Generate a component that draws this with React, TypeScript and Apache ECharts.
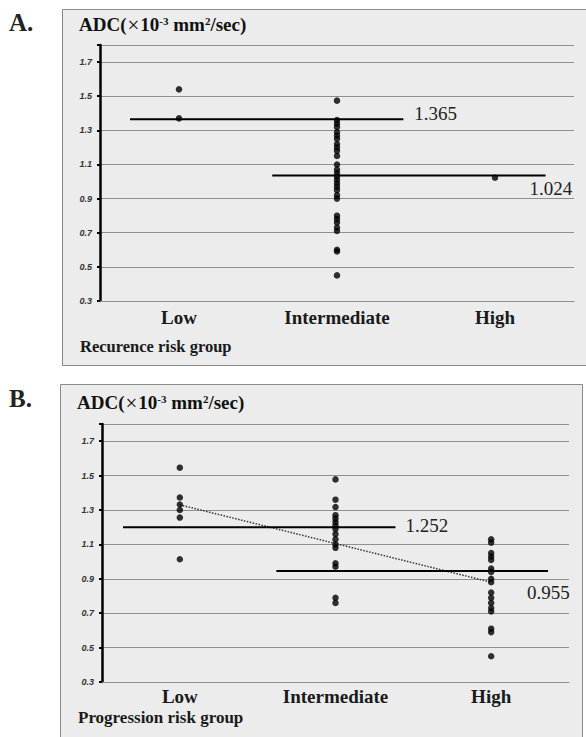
import React, { useEffect, useRef } from "react";
import * as echarts from "echarts";

const categories = ["Low", "Intermediate", "High"];
const yTicks = [0.3, 0.5, 0.7, 0.9, 1.1, 1.3, 1.5, 1.7];

// Panel A: recurrence risk group
const recurrenceLow = [1.54, 1.37];
const recurrenceIntermediate = [
  1.474, 1.36, 1.34, 1.32, 1.29, 1.27, 1.25, 1.22, 1.2, 1.18, 1.15, 1.1, 1.07,
  1.05, 1.03, 1.01, 0.99, 0.97, 0.95, 0.92, 0.9, 0.8, 0.78, 0.76, 0.73, 0.71,
  0.6, 0.59, 0.45,
];
const recurrenceHigh = [1.022];
const recurrenceMeanLevels = [1.365, 1.035];
const recurrenceMeanLabels = ["1.365", "1.024"];
const recurrenceMeanSpans = [
  [0.19, 1.92],
  [1.09, 2.82],
];

// Panel B: progression risk group
const progressionLow = [1.546, 1.373, 1.332, 1.3, 1.256, 1.014];
const progressionIntermediate = [
  1.478, 1.36, 1.317, 1.27, 1.25, 1.23, 1.21, 1.19, 1.16, 1.13, 1.1, 1.08,
  0.99, 0.97, 0.79, 0.76,
];
const progressionHigh = [
  1.13, 1.11, 1.05, 1.03, 1.01, 0.96, 0.94, 0.9, 0.88, 0.82, 0.79, 0.76, 0.73,
  0.71, 0.61, 0.59, 0.45,
];
const progressionMeanLevels = [1.2, 0.945];
const progressionMeanLabels = ["1.252", "0.955"];
const progressionMeanSpans = [
  [0.135, 1.885],
  [1.12, 2.865],
];
const progressionTrend = [1.33, 0.88];

const SERIF = "'Liberation Serif', 'DejaVu Serif', serif";
const SANS = "'Liberation Sans', Arial, sans-serif";

function scatterSeries(groups: number[][], xAxisIndex: number, yAxisIndex: number) {
  const data: number[][] = [];
  groups.forEach((g, i) => g.forEach((v) => data.push([i, v])));
  return {
    type: "scatter",
    xAxisIndex,
    yAxisIndex,
    data,
    symbolSize: 6.5,
    itemStyle: { color: "#000" },
    z: 5,
  };
}

function meanSeries(
  levels: number[],
  labels: string[],
  spans: number[][],
  xAxisIndex: number,
  yAxisIndex: number,
  offsets: number[][]
) {
  return levels.map((lv, i) => ({
    type: "line",
    xAxisIndex,
    yAxisIndex,
    symbol: "none",
    showSymbol: false,
    lineStyle: { color: "#000", width: 2 },
    z: 4,
    endLabel: {
      show: true,
      formatter: () => labels[i],
      distance: 0,
      offset: offsets[i],
      fontFamily: SERIF,
      fontSize: 19,
      color: "#222",
    },
    data: [
      [spans[i][0], lv],
      [spans[i][1], lv],
    ],
  }));
}

function yAxisCfg(gridIndex: number) {
  return {
    type: "value",
    gridIndex,
    min: 0.3,
    max: 1.8,
    interval: 0.2,
    axisLine: { show: true, lineStyle: { color: "#000", width: 2.5 } },
    axisTick: { show: true, length: 3, lineStyle: { color: "#000", width: 2 } },
    axisLabel: {
      fontFamily: SANS,
      fontStyle: "italic",
      fontWeight: "bold",
      fontSize: 9,
      color: "#333",
      margin: 8,
      formatter: (v: number) => (yTicks.some((t) => Math.abs(t - v) < 1e-6) ? v.toFixed(1) : ""),
    },
    splitLine: { show: true, lineStyle: { color: "#8f8f8f", width: 1 } },
  };
}

function catAxisCfg(gridIndex: number, margin: number) {
  return {
    type: "category",
    gridIndex,
    data: categories,
    boundaryGap: true,
    axisLine: { show: true, lineStyle: { color: "#8f8f8f", width: 1 } },
    axisTick: { show: false },
    axisLabel: {
      fontFamily: SERIF,
      fontWeight: "bold",
      fontSize: 19,
      color: "#1a1a1a",
      margin,
    },
    splitLine: { show: false },
  };
}

function valAxisCfg(gridIndex: number) {
  return { type: "value", gridIndex, min: 0, max: 3, show: false };
}

function titleText(x: number, y: number) {
  return {
    type: "text",
    left: x,
    top: y,
    z: 10,
    style: {
      text: "{b|ADC(}{x|×}{b|10}{s|-3}{b| mm}{s|2}{b|/sec)}",
      rich: {
        b: { fontFamily: SERIF, fontWeight: "bold", fontSize: 19, fill: "#111" },
        x: { fontFamily: SERIF, fontSize: 21, fill: "#111", padding: [0, 1, 0, 1] },
        s: { fontFamily: SERIF, fontWeight: "bold", fontSize: 11, fill: "#111", padding: [0, 0, 8, 0] },
      },
    },
  };
}

export default function App() {
  const ref = useRef<HTMLDivElement>(null);
  useEffect(() => {
    document.body.style.margin = "0";
    if (!ref.current) return;
    const chart = echarts.init(ref.current, null, { renderer: "svg" });
    const option: any = {
      animation: false,
      backgroundColor: "#fff",
      graphic: [
        {
          type: "rect",
          shape: { x: 62.5, y: 9.5, width: 540, height: 356 },
          style: { fill: "#ececec", stroke: "#8a8a8a", lineWidth: 1 },
          z: -10,
          silent: true,
        },
        {
          type: "rect",
          shape: { x: 60.5, y: 384.5, width: 522, height: 360 },
          style: { fill: "#ececec", stroke: "#8a8a8a", lineWidth: 1 },
          z: -10,
          silent: true,
        },
        {
          type: "text",
          left: 9,
          top: 10,
          style: { text: "A.", fontFamily: SERIF, fontWeight: "bold", fontSize: 25, fill: "#222" },
        },
        {
          type: "text",
          left: 9,
          top: 386,
          style: { text: "B.", fontFamily: SERIF, fontWeight: "bold", fontSize: 25, fill: "#222" },
        },
        titleText(79, 14),
        titleText(77, 392),
        {
          type: "text",
          left: 80,
          top: 338,
          style: { text: "Recurence risk group", fontFamily: SERIF, fontWeight: "bold", fontSize: 16.5, fill: "#1a1a1a" },
        },
        {
          type: "text",
          left: 78,
          top: 709,
          style: { text: "Progression risk group", fontFamily: SERIF, fontWeight: "bold", fontSize: 17, fill: "#1a1a1a" },
        },
      ],
      grid: [
        { left: 100, right: 12, top: 45, bottom: 436 },
        { left: 102, right: 17, top: 424, bottom: 55 },
      ],
      xAxis: [catAxisCfg(0, 7), valAxisCfg(0), catAxisCfg(1, 5), valAxisCfg(1)],
      yAxis: [yAxisCfg(0), yAxisCfg(1)],
      series: [
        scatterSeries([recurrenceLow, recurrenceIntermediate, recurrenceHigh], 0, 0),
        ...meanSeries(recurrenceMeanLevels, recurrenceMeanLabels, recurrenceMeanSpans, 1, 0, [
          [11, -6],
          [-16, 13],
        ]),
        scatterSeries([progressionLow, progressionIntermediate, progressionHigh], 2, 1),
        ...meanSeries(progressionMeanLevels, progressionMeanLabels, progressionMeanSpans, 3, 1, [
          [10, -2],
          [-21, 21],
        ]),
        {
          type: "line",
          xAxisIndex: 3,
          yAxisIndex: 1,
          symbol: "none",
          lineStyle: { color: "#333", width: 1.5, type: "dotted" },
          z: 3,
          data: [
            [0.5, progressionTrend[0]],
            [2.5, progressionTrend[1]],
          ],
        },
      ],
    };
    chart.setOption(option);
    return () => chart.dispose();
  }, []);
  return <div ref={ref} style={{ width: 586, height: 737 }} />;
}
